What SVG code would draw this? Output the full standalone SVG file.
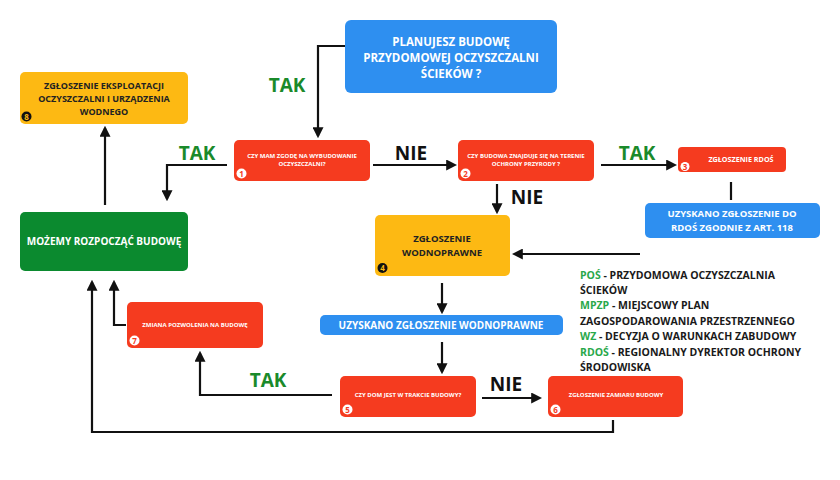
<svg xmlns="http://www.w3.org/2000/svg" width="840" height="480" viewBox="0 0 840 480">
<defs>
<marker id="ah" viewBox="0 0 10 10" refX="8" refY="5" markerWidth="5" markerHeight="5" orient="auto-start-reverse" markerUnits="strokeWidth">
<path d="M0,0 L10,5 L0,10 z" fill="#111"/>
</marker>
</defs>
<style>
text{font-family:"Open Sans","Noto Sans","Liberation Sans",sans-serif;font-weight:700;}
.red{fill:#f53b1f;}
.org{fill:#fdb913;}
.blu{fill:#2e8ff0;}
.grn{fill:#0b8a2f;}
.wt{fill:#fff;text-anchor:middle;}
.dk{fill:#222;text-anchor:middle;}
.small{font-size:6px;}
.mid{font-size:9px;}
.big{font-size:11.5px;}
.lbl{font-size:19px;}
.tak{fill:#1a8a2a;}
.nie{fill:#111;}
.num{font-size:8px;text-anchor:middle;}
.conn path{fill:none;stroke:#111;stroke-width:2.2;}
.leg{font-size:10.5px;fill:#1a1a1a;}
.lg{fill:#29a84a;}
</style>
<rect width="840" height="480" fill="#fff"/>
<g class="conn">
<path d="M345,46 H318 V136" marker-end="url(#ah)"/>
<path d="M373,165 H455" marker-end="url(#ah)"/>
<path d="M601,165 H675" marker-end="url(#ah)"/>
<path d="M497,184 V212" marker-end="url(#ah)"/>
<path d="M731,182 V200"/>
<path d="M640,254 H514" marker-end="url(#ah)"/>
<path d="M227,165 H167 V199" marker-end="url(#ah)"/>
<path d="M105,205 V128" marker-end="url(#ah)"/>
<path d="M442,283 V312" marker-end="url(#ah)"/>
<path d="M442,342 V372" marker-end="url(#ah)"/>
<path d="M332,395 H200 V353" marker-end="url(#ah)"/>
<path d="M482,398 H540" marker-end="url(#ah)"/>
<path d="M613,420 V432 H92 V282" marker-end="url(#ah)"/>
<path d="M126,325 H114 V282" marker-end="url(#ah)"/>
</g>
<g id="labels">
<text x="287" y="92" class="lbl tak" text-anchor="middle">TAK</text>
<text x="411" y="160" class="lbl nie" text-anchor="middle">NIE</text>
<text x="637" y="160" class="lbl tak" text-anchor="middle">TAK</text>
<text x="527" y="204" class="lbl nie" text-anchor="middle">NIE</text>
<text x="197" y="160" class="lbl tak" text-anchor="middle">TAK</text>
<text x="268" y="387" class="lbl tak" text-anchor="middle">TAK</text>
<text x="506" y="391" class="lbl nie" text-anchor="middle">NIE</text>
</g>
<g id="start">
<rect x="345" y="20" width="212" height="73" rx="6" class="blu"/>
<text x="451" y="46" class="wt big">PLANUJESZ BUDOWĘ</text>
<text x="451" y="62" class="wt big">PRZYDOMOWEJ OCZYSZCZALNI</text>
<text x="451" y="78" class="wt big">ŚCIEKÓW ?</text>
</g>
<g id="n8">
<rect x="20" y="72" width="168" height="52" rx="5" class="org"/>
<text x="104" y="89" class="dk mid">ZGŁOSZENIE EKSPLOATACJI</text>
<text x="104" y="102" class="dk mid">OCZYSZCZALNI I URZĄDZENIA</text>
<text x="104" y="115" class="dk mid">WODNEGO</text>
<circle cx="26.5" cy="116.5" r="5" fill="#111"/>
<text x="26.5" y="119.5" class="num" fill="#fdb913">8</text>
</g>
<g id="n1">
<rect x="234" y="140" width="136" height="41" rx="5" class="red"/>
<text x="302" y="158" class="wt small">CZY MAM ZGODĘ NA WYBUDOWANIE</text>
<text x="302" y="166" class="wt small">OCZYSZCZALNI?</text>
<circle cx="241.5" cy="173.5" r="5" fill="#fff"/>
<text x="241.5" y="176.5" class="num" fill="#f53b1f">1</text>
</g>
<g id="n2">
<rect x="458" y="140" width="136" height="41" rx="5" class="red"/>
<text x="526" y="158" class="wt small">CZY BUDOWA ZNAJDUJE SIĘ NA TERENIE</text>
<text x="526" y="166" class="wt small">OCHRONY PRZYRODY ?</text>
<circle cx="465.5" cy="173.5" r="5" fill="#fff"/>
<text x="465.5" y="176.5" class="num" fill="#f53b1f">2</text>
</g>
<g id="n3">
<rect x="678" y="147" width="108" height="25" rx="4" class="red"/>
<text x="741" y="162" class="wt" font-size="7.2">ZGŁOSZENIE RDOŚ</text>
<circle cx="685" cy="166.5" r="4.5" fill="#fff"/>
<text x="685" y="169.5" class="num" fill="#f53b1f">3</text>
</g>
<g id="rdos">
<rect x="645" y="203" width="175" height="35" rx="5" class="blu"/>
<text x="732" y="217" class="wt" font-size="9.5">UZYSKANO ZGŁOSZENIE DO</text>
<text x="732" y="231" class="wt" font-size="9.5">RDOŚ ZGODNIE Z ART. 118</text>
</g>
<g id="start-build">
<rect x="20" y="212" width="168" height="59" rx="5" class="grn"/>
<text x="104" y="245" class="wt" font-size="10">MOŻEMY ROZPOCZĄĆ BUDOWĘ</text>
</g>
<g id="n4">
<rect x="375" y="215" width="135" height="61" rx="5" class="org"/>
<text x="442" y="242" class="dk" font-size="9.5">ZGŁOSZENIE</text>
<text x="442" y="256" class="dk" font-size="9.5">WODNOPRAWNE</text>
<circle cx="382.5" cy="268" r="5" fill="#111"/>
<text x="382.5" y="271" class="num" fill="#fdb913">4</text>
</g>
<g id="wodno">
<rect x="320" y="315" width="243" height="20" rx="5" class="blu"/>
<text x="441" y="329" class="wt" font-size="10">UZYSKANO ZGŁOSZENIE WODNOPRAWNE</text>
</g>
<g id="n7">
<rect x="127" y="302" width="136" height="46" rx="5" class="red"/>
<text x="195" y="327" class="wt small">ZMIANA POZWOLENIA NA BUDOWĘ</text>
<circle cx="134.5" cy="340.5" r="5" fill="#fff"/>
<text x="134.5" y="343.5" class="num" fill="#f53b1f">7</text>
</g>
<g id="n5">
<rect x="340" y="376" width="136" height="41" rx="5" class="red"/>
<text x="408" y="397" class="wt small">CZY DOM JEST W TRAKCIE BUDOWY?</text>
<circle cx="347.5" cy="409.5" r="5" fill="#fff"/>
<text x="347.5" y="412.5" class="num" fill="#f53b1f">5</text>
</g>
<g id="n6">
<rect x="548" y="376" width="135" height="41" rx="5" class="red"/>
<text x="616" y="397" class="wt small">ZGŁOSZENIE ZAMIARU BUDOWY</text>
<circle cx="555.5" cy="409.5" r="5" fill="#fff"/>
<text x="555.5" y="412.5" class="num" fill="#f53b1f">6</text>
</g>
<g id="legend">
<text x="580" y="279" class="leg"><tspan class="lg">POŚ</tspan> - PRZYDOMOWA OCZYSZCZALNIA</text>
<text x="580" y="294" class="leg">ŚCIEKÓW</text>
<text x="580" y="309" class="leg"><tspan class="lg">MPZP</tspan> - MIEJSCOWY PLAN</text>
<text x="580" y="325" class="leg">ZAGOSPODAROWANIA PRZESTRZENNEGO</text>
<text x="580" y="340" class="leg"><tspan class="lg">WZ</tspan> - DECYZJA O WARUNKACH ZABUDOWY</text>
<text x="580" y="356" class="leg"><tspan class="lg">RDOŚ</tspan> - REGIONALNY DYREKTOR OCHRONY</text>
<text x="580" y="371" class="leg">ŚRODOWISKA</text>
</g>
</svg>
